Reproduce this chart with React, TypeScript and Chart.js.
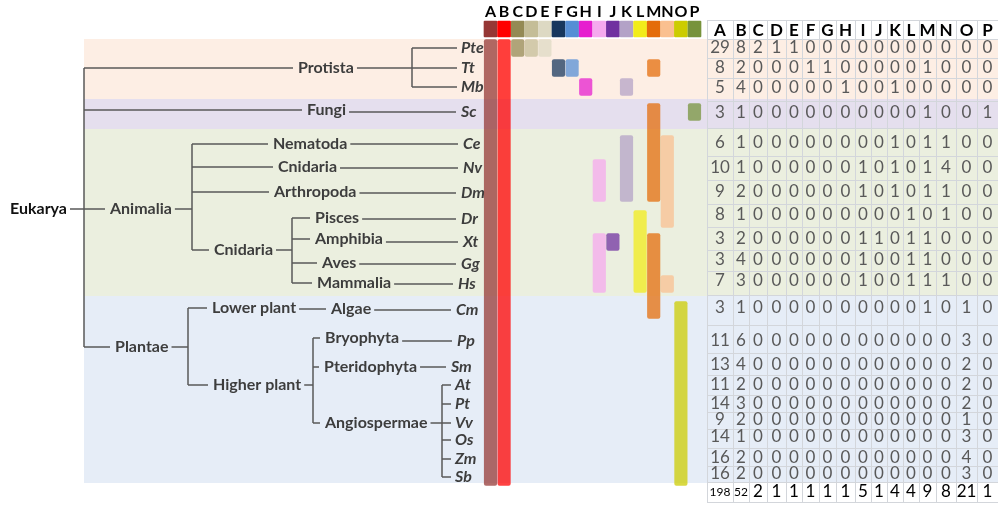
import React, { useEffect, useRef } from "react";
import { Chart, registerables } from "chart.js";
Chart.register(...registerables);

// ---------------- data ----------------
const columns = ["A", "B", "C", "D", "E", "F", "G", "H", "I", "J", "K", "L", "M", "N", "O", "P"];
const columnColors = [
  "#953735", "#ff0000", "#948a54", "#c4bd97", "#ddd9c3", "#17375e", "#558ed5", "#e61ecf",
  "#f5a9ee", "#7030a0", "#b3a2c7", "#f2ec1a", "#e46c0a", "#fac090", "#cccc00", "#77933c",
];
const species = ["Pte", "Tt", "Mb", "Sc", "Ce", "Nv", "Dm", "Dr", "Xt", "Gg", "Hs", "Cm", "Pp", "Sm", "At", "Pt", "Vv", "Os", "Zm", "Sb"];

const countsPte = [29, 8, 2, 1, 1, 0, 0, 0, 0, 0, 0, 0, 0, 0, 0, 0];
const countsTt = [8, 2, 0, 0, 0, 1, 1, 0, 0, 0, 0, 0, 1, 0, 0, 0];
const countsMb = [5, 4, 0, 0, 0, 0, 0, 1, 0, 0, 1, 0, 0, 0, 0, 0];
const countsSc = [3, 1, 0, 0, 0, 0, 0, 0, 0, 0, 0, 0, 1, 0, 0, 1];
const countsCe = [6, 1, 0, 0, 0, 0, 0, 0, 0, 0, 1, 0, 1, 1, 0, 0];
const countsNv = [10, 1, 0, 0, 0, 0, 0, 0, 1, 0, 1, 0, 1, 4, 0, 0];
const countsDm = [9, 2, 0, 0, 0, 0, 0, 0, 1, 0, 1, 0, 1, 1, 0, 0];
const countsDr = [8, 1, 0, 0, 0, 0, 0, 0, 0, 0, 0, 1, 0, 1, 0, 0];
const countsXt = [3, 2, 0, 0, 0, 0, 0, 0, 1, 1, 0, 1, 1, 0, 0, 0];
const countsGg = [3, 4, 0, 0, 0, 0, 0, 0, 1, 0, 0, 1, 1, 0, 0, 0];
const countsHs = [7, 3, 0, 0, 0, 0, 0, 0, 1, 0, 0, 1, 1, 1, 0, 0];
const countsCm = [3, 1, 0, 0, 0, 0, 0, 0, 0, 0, 0, 0, 1, 0, 1, 0];
const countsPp = [11, 6, 0, 0, 0, 0, 0, 0, 0, 0, 0, 0, 0, 0, 3, 0];
const countsSm = [13, 4, 0, 0, 0, 0, 0, 0, 0, 0, 0, 0, 0, 0, 2, 0];
const countsAt = [11, 2, 0, 0, 0, 0, 0, 0, 0, 0, 0, 0, 0, 0, 2, 0];
const countsPt = [14, 3, 0, 0, 0, 0, 0, 0, 0, 0, 0, 0, 0, 0, 2, 0];
const countsVv = [9, 2, 0, 0, 0, 0, 0, 0, 0, 0, 0, 0, 0, 0, 1, 0];
const countsOs = [14, 1, 0, 0, 0, 0, 0, 0, 0, 0, 0, 0, 0, 0, 3, 0];
const countsZm = [16, 2, 0, 0, 0, 0, 0, 0, 0, 0, 0, 0, 0, 0, 4, 0];
const countsSb = [16, 2, 0, 0, 0, 0, 0, 0, 0, 0, 0, 0, 0, 0, 3, 0];
const columnTotals = [198, 52, 2, 1, 1, 1, 1, 1, 5, 1, 4, 4, 9, 8, 21, 1];

// tree topology: [id, label, parent]
const treeNodes: [string, string, string][] = [
  ["root", "Eukarya", ""],
  ["protista", "Protista", "root"],
  ["fungi", "Fungi", "root"],
  ["animalia", "Animalia", "root"],
  ["plantae", "Plantae", "root"],
  ["nematoda", "Nematoda", "animalia"],
  ["cnidaria", "Cnidaria", "animalia"],
  ["arthropoda", "Arthropoda", "animalia"],
  ["chordata", "Cnidaria", "animalia"],
  ["pisces", "Pisces", "chordata"],
  ["amphibia", "Amphibia", "chordata"],
  ["aves", "Aves", "chordata"],
  ["mammalia", "Mammalia", "chordata"],
  ["lower", "Lower plant", "plantae"],
  ["higher", "Higher plant", "plantae"],
  ["algae", "Algae", "lower"],
  ["bryophyta", "Bryophyta", "higher"],
  ["pteridophyta", "Pteridophyta", "higher"],
  ["angiospermae", "Angiospermae", "higher"],
];
const speciesParent = [
  "protista", "protista", "protista", "fungi", "nematoda", "cnidaria", "arthropoda", "pisces", "amphibia",
  "aves", "mammalia", "algae", "bryophyta", "pteridophyta",
  "angiospermae", "angiospermae", "angiospermae", "angiospermae", "angiospermae", "angiospermae",
];

// ---------------- layout & style ----------------
const W = 998;
const H = 506;
const speciesCounts = [
  countsPte, countsTt, countsMb, countsSc, countsCe, countsNv, countsDm, countsDr, countsXt, countsGg,
  countsHs, countsCm, countsPp, countsSm, countsAt, countsPt, countsVv, countsOs, countsZm, countsSb,
];
const treeRowY = [48, 68, 87, 112, 144, 168, 193, 219, 242, 264, 284, 310, 341, 367, 385, 404, 423, 440, 459, 477];
const tableRowY = [48, 68, 88, 113, 143, 168, 192, 215, 239, 260, 281, 308, 341, 365, 385, 404, 420, 437, 458, 474];
const leafX = [461, 461, 461, 461, 463, 463, 461, 461, 463, 461, 458, 456, 457, 451, 455, 455, 455, 455, 455, 455];
const nodeLayout: Record<string, { x: number; y: number; vx?: number }> = {
  root: { x: 10, y: 209, vx: 84 },
  protista: { x: 298, y: 68, vx: 412 },
  fungi: { x: 307, y: 110 },
  animalia: { x: 110, y: 209, vx: 192 },
  plantae: { x: 115, y: 347, vx: 188 },
  nematoda: { x: 273, y: 144 },
  cnidaria: { x: 278, y: 167 },
  arthropoda: { x: 274, y: 192 },
  chordata: { x: 214, y: 250, vx: 292 },
  pisces: { x: 315, y: 218 },
  amphibia: { x: 315, y: 239 },
  aves: { x: 322, y: 263 },
  mammalia: { x: 317, y: 283 },
  lower: { x: 212, y: 308 },
  higher: { x: 213, y: 385, vx: 313 },
  algae: { x: 331, y: 309 },
  bryophyta: { x: 325, y: 338 },
  pteridophyta: { x: 324, y: 367 },
  angiospermae: { x: 325, y: 423, vx: 442 },
};
const bands = [
  { top: 39, bottom: 99, color: "#fdeee4" },
  { top: 99, bottom: 129, color: "#e5dfee" },
  { top: 129, bottom: 296, color: "#ebefdf" },
  { top: 296, bottom: 483, color: "#e6edf7" },
];
const bandLeft = 84;
const barX0 = 490.5;
const barStep = 13.6;
const barHalf = 8.5;
const tableColEdges = [707, 733, 749, 767, 786, 802, 819, 836, 855, 871, 887, 903, 919, 936, 956, 977, 998];
const tableTop = 20;
const tableHeaderBottom = 39;
const tableBodyBottom = 482;
const tableBottom = 502;
const totalsY = 492;
const lineColor = "#595959";
const textColor = "#3d3d3d";

const barX = (i: number) => barX0 + i * barStep;

function hexA(hex: string, a: number) {
  const n = parseInt(hex.slice(1), 16);
  return `rgba(${(n >> 16) & 255},${(n >> 8) & 255},${n & 255},${a})`;
}

function presenceRuns(col: number) {
  const runs: [number, number][] = [];
  let start = -1;
  for (let s = 0; s <= species.length; s++) {
    const on = s < species.length && speciesCounts[s][col] > 0;
    if (on && start < 0) start = s;
    if (!on && start >= 0) {
      runs.push([start, s - 1]);
      start = -1;
    }
  }
  return runs;
}

const figurePlugin = {
  id: "figure",
  beforeDatasetsDraw(chart: any) {
    const { ctx, scales } = chart;
    const px = (v: number) => scales.x.getPixelForValue(v);
    const py = (v: number) => scales.y.getPixelForValue(v);
    ctx.save();
    // bands
    bands.forEach((b) => {
      ctx.fillStyle = b.color;
      ctx.fillRect(px(bandLeft), py(b.top), px(W) - px(bandLeft), py(b.bottom) - py(b.top));
    });

    // tree
    const nodeFont = "bold 16px Lato";
    const leafFont = "italic bold 16px Lato";
    ctx.textBaseline = "middle";
    ctx.textAlign = "left";
    type N = { id: string; label: string; x: number; y: number; w: number; leaf: boolean; vx?: number };
    const nodes: Record<string, N> = {};
    ctx.font = nodeFont;
    treeNodes.forEach(([id, label]) => {
      const l = nodeLayout[id];
      nodes[id] = { id, label, x: l.x, y: l.y, vx: l.vx, w: ctx.measureText(label).width, leaf: false };
    });
    const children: Record<string, N[]> = {};
    treeNodes.forEach(([id, , parent]) => {
      if (parent) (children[parent] = children[parent] || []).push(nodes[id]);
    });
    ctx.font = leafFont;
    species.forEach((s, i) => {
      const n: N = { id: s, label: s, x: leafX[i], y: treeRowY[i], w: ctx.measureText(s).width, leaf: true };
      (children[speciesParent[i]] = children[speciesParent[i]] || []).push(n);
    });

    ctx.strokeStyle = lineColor;
    ctx.lineWidth = 1.5;
    const seg = (x1: number, y1: number, x2: number, y2: number) => {
      ctx.beginPath();
      ctx.moveTo(px(x1), py(y1));
      ctx.lineTo(px(x2), py(y2));
      ctx.stroke();
    };
    Object.keys(children).forEach((pid) => {
      const p = nodes[pid];
      const kids = children[pid];
      const right = p.x + p.w + 3;
      if (kids.length === 1) {
        seg(right, kids[0].y, kids[0].x - 5, kids[0].y);
      } else {
        const vx = p.vx as number;
        const ys = kids.map((k) => k.y);
        seg(right, p.y, vx, p.y);
        seg(vx, Math.min(...ys), vx, Math.max(...ys));
        kids.forEach((k) => seg(vx, k.y, k.x - (k.leaf ? 4 : 5), k.y));
      }
    });
    // labels
    ctx.font = nodeFont;
    Object.values(nodes).forEach((n) => {
      ctx.fillStyle = n.id === "root" ? "#111111" : textColor;
      ctx.fillText(n.label, px(n.x), py(n.y));
    });
    ctx.font = leafFont;
    ctx.fillStyle = textColor;
    species.forEach((s, i) => ctx.fillText(s, px(leafX[i]), py(treeRowY[i])));
    ctx.restore();
  },
  afterDatasetsDraw(chart: any) {
    const { ctx, scales } = chart;
    const px = (v: number) => scales.x.getPixelForValue(v);
    const py = (v: number) => scales.y.getPixelForValue(v);
    ctx.save();
    ctx.textBaseline = "middle";
    ctx.textAlign = "center";
    // column letters above swatches
    ctx.font = "bold 16px Lato";
    ctx.fillStyle = "#000";
    columns.forEach((c, i) => ctx.fillText(c, px(barX(i)), py(12)));

    // table grid
    ctx.strokeStyle = "#d3d6db";
    ctx.lineWidth = 1;
    const hLines = [tableTop, tableHeaderBottom];
    for (let r = 0; r < tableRowY.length - 1; r++) hLines.push((tableRowY[r] + tableRowY[r + 1]) / 2);
    hLines.push(tableBodyBottom, tableBottom);
    hLines.forEach((y) => {
      ctx.beginPath();
      ctx.moveTo(px(tableColEdges[0]), Math.round(py(y)) + 0.5);
      ctx.lineTo(px(W), Math.round(py(y)) + 0.5);
      ctx.stroke();
    });
    tableColEdges.forEach((x) => {
      ctx.beginPath();
      ctx.moveTo(Math.round(px(x)) + 0.5, py(tableTop));
      ctx.lineTo(Math.round(px(x)) + 0.5, py(tableBottom));
      ctx.stroke();
    });
    const colC = (i: number) => px((tableColEdges[i] + tableColEdges[i + 1]) / 2);
    // header
    ctx.font = "bold 17px Lato";
    ctx.fillStyle = "#000";
    columns.forEach((c, i) => ctx.fillText(c, colC(i), py((tableTop + tableHeaderBottom) / 2 + 1)));
    // body
    ctx.font = "17px Lato";
    ctx.fillStyle = "#595959";
    speciesCounts.forEach((row, r) => {
      row.forEach((v, i) => ctx.fillText(String(v), colC(i), py(tableRowY[r])));
    });
    // totals
    ctx.fillStyle = "#000";
    columnTotals.forEach((v, i) => {
      ctx.font = i < 2 ? "12px Lato" : "17px Lato";
      ctx.fillText(String(v), colC(i), py(totalsY));
    });
    ctx.restore();
  },
};

export default function App() {
  const ref = useRef<HTMLCanvasElement | null>(null);
  useEffect(() => {
    if (!ref.current) return;
    const datasets: any[] = columns.map((c, i) => ({
      label: c,
      data: presenceRuns(i).map(([a, b]) => ({ x: barX(i), y: [treeRowY[a] - barHalf, treeRowY[b] + barHalf] })),
      backgroundColor: hexA(columnColors[i], 0.74),
      barThickness: 12.5,
      grouped: false,
      borderRadius: 2,
      borderSkipped: false,
      borderWidth: 0,
    }));
    datasets.push({
      label: "key",
      data: columns.map((_, i) => ({ x: barX(i), y: [21, 37] })),
      backgroundColor: columnColors,
      barThickness: 13,
      grouped: false,
      borderRadius: 1,
      borderSkipped: false,
      borderWidth: 0,
    });
    const chart = new Chart(ref.current, {
      type: "bar",
      data: { datasets },
      options: {
        animation: false,
        responsive: false,
        layout: { padding: 0 },
        plugins: { legend: { display: false }, tooltip: { enabled: false } },
        scales: {
          x: { type: "linear", min: 0, max: W, display: false, offset: false },
          y: { type: "linear", min: 0, max: H, reverse: true, display: false },
        },
      },
      plugins: [figurePlugin],
    } as any);
    return () => chart.destroy();
  }, []);
  return (
    <div style={{ position: "absolute", left: 0, top: 0, width: W, height: H, background: "#fff" }}>
      <canvas ref={ref} width={W} height={H} />
    </div>
  );
}
